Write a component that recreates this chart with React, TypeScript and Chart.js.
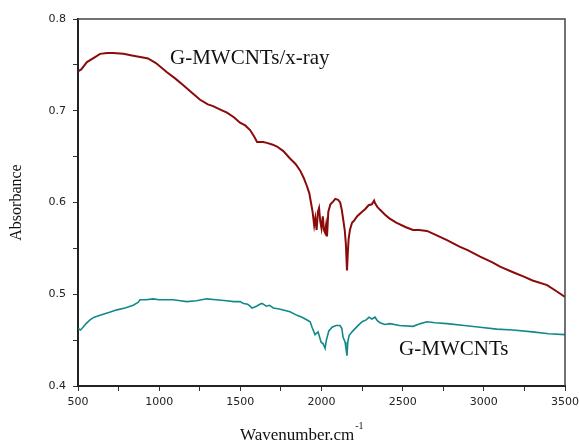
import React, { useEffect, useRef } from "react";
import { Chart, registerables } from "chart.js";

Chart.register(...registerables);

const xMin = 500;
const xMax = 3500;
const yMin = 0.4;
const yMax = 0.8;

const redX = [500, 520, 555, 600, 636, 680, 716, 780, 840, 900, 931, 980, 1048, 1100, 1147, 1200, 1252, 1300, 1332, 1380, 1418, 1460, 1498, 1530, 1560, 1585, 1603, 1640, 1664, 1700, 1726, 1765, 1806, 1840, 1868, 1890, 1910, 1925, 1935, 1945, 1955, 1962, 1970, 1978, 1985, 1992, 2000, 2008, 2015, 2022, 2028, 2034, 2042, 2055, 2071, 2085, 2102, 2115, 2125, 2135, 2143, 2150, 2157, 2162, 2167, 2175, 2188, 2200, 2220, 2250, 2270, 2290, 2310, 2324, 2330, 2345, 2361, 2390, 2416, 2460, 2520, 2564, 2600, 2650, 2700, 2773, 2850, 2900, 2977, 3050, 3100, 3180, 3250, 3300, 3390, 3450, 3500];
const redY = [0.743, 0.745, 0.753, 0.758, 0.762, 0.763, 0.763, 0.762, 0.760, 0.758, 0.757, 0.752, 0.742, 0.735, 0.728, 0.720, 0.712, 0.707, 0.705, 0.701, 0.698, 0.693, 0.687, 0.684, 0.679, 0.672, 0.666, 0.666, 0.665, 0.663, 0.661, 0.656, 0.648, 0.642, 0.635, 0.627, 0.618, 0.610, 0.600, 0.590, 0.575, 0.583, 0.570, 0.590, 0.594, 0.580, 0.572, 0.585, 0.570, 0.567, 0.575, 0.563, 0.590, 0.598, 0.601, 0.604, 0.603, 0.600, 0.592, 0.580, 0.570, 0.555, 0.526, 0.545, 0.560, 0.570, 0.578, 0.580, 0.585, 0.590, 0.593, 0.597, 0.598, 0.602, 0.599, 0.595, 0.592, 0.587, 0.583, 0.578, 0.573, 0.570, 0.570, 0.569, 0.565, 0.559, 0.552, 0.548, 0.541, 0.535, 0.530, 0.524, 0.519, 0.515, 0.510, 0.503, 0.497];

const tealX = [500, 515, 531, 550, 574, 600, 636, 690, 740, 790, 840, 870, 882, 920, 962, 1000, 1087, 1130, 1170, 1230, 1293, 1350, 1416, 1460, 1498, 1520, 1545, 1560, 1572, 1600, 1620, 1634, 1660, 1680, 1703, 1740, 1806, 1849, 1880, 1911, 1930, 1942, 1960, 1979, 1997, 2010, 2022, 2030, 2045, 2065, 2090, 2114, 2125, 2133, 2145, 2150, 2157, 2162, 2170, 2188, 2220, 2250, 2275, 2293, 2310, 2330, 2345, 2361, 2390, 2422, 2480, 2564, 2610, 2650, 2700, 2773, 2880, 2977, 3080, 3180, 3300, 3400, 3500];
const tealY = [0.463, 0.461, 0.464, 0.468, 0.472, 0.475, 0.477, 0.480, 0.483, 0.485, 0.488, 0.491, 0.494, 0.494, 0.495, 0.494, 0.494, 0.493, 0.492, 0.493, 0.495, 0.494, 0.493, 0.492, 0.492, 0.490, 0.489, 0.487, 0.485, 0.487, 0.489, 0.490, 0.487, 0.488, 0.485, 0.484, 0.481, 0.477, 0.475, 0.472, 0.470, 0.464, 0.456, 0.459, 0.448, 0.446, 0.441, 0.450, 0.460, 0.464, 0.466, 0.466, 0.463, 0.453, 0.448, 0.442, 0.433, 0.448, 0.455, 0.459, 0.465, 0.470, 0.472, 0.475, 0.473, 0.475, 0.471, 0.469, 0.467, 0.468, 0.466, 0.465, 0.468, 0.470, 0.469, 0.468, 0.466, 0.464, 0.462, 0.461, 0.459, 0.457, 0.456];

const labelTexts = ["G-MWCNTs/x-ray", "G-MWCNTs"];
const labelX = [1067, 2478];
const labelY = [0.757, 0.44];

const yTitle = "Absorbance";
const xTitle = "Wavenumber.cm";
const xTitleSup = "-1";

const decorPlugin = {
  id: "decor",
  afterDraw(chart: any) {
    const { ctx, chartArea: a, scales } = chart;
    ctx.save();
    // top and right frame
    ctx.strokeStyle = "#444";
    ctx.lineWidth = 1.5;
    ctx.beginPath();
    ctx.moveTo(a.left, a.top);
    ctx.lineTo(a.right, a.top);
    ctx.lineTo(a.right, a.bottom);
    ctx.stroke();

    // annotations
    ctx.fillStyle = "#111";
    ctx.font = '21px "Liberation Serif"';
    ctx.textAlign = "left";
    ctx.textBaseline = "middle";
    for (let i = 0; i < labelTexts.length; i++) {
      ctx.fillText(labelTexts[i], scales.x.getPixelForValue(labelX[i]), scales.y.getPixelForValue(labelY[i]));
    }

    // y title
    ctx.save();
    ctx.translate(17, (a.top + a.bottom) / 2);
    ctx.rotate(-Math.PI / 2);
    ctx.textAlign = "center";
    ctx.textBaseline = "middle";
    ctx.font = '16px "Liberation Serif"';
    ctx.fillText(yTitle, 0, 0);
    ctx.restore();

    // x title
    ctx.font = '17px "Liberation Serif"';
    ctx.textAlign = "left";
    ctx.textBaseline = "alphabetic";
    const tx = 240;
    const ty = 440;
    ctx.fillText(xTitle, tx, ty);
    const w = ctx.measureText(xTitle).width;
    ctx.font = '10px "Liberation Serif"';
    ctx.fillText(xTitleSup, tx + w + 1, ty - 11);
    ctx.restore();
  },
};

export default function App() {
  const ref = useRef<HTMLCanvasElement | null>(null);

  useEffect(() => {
    if (!ref.current) return;
    const chart = new Chart(ref.current, {
      type: "line",
      data: {
        datasets: [
          {
            label: "G-MWCNTs/x-ray",
            data: redX.map((x, i) => ({ x, y: redY[i] })),
            borderColor: "#8b0a0a",
            borderWidth: 2,
            pointRadius: 0,
            tension: 0,
          },
          {
            label: "G-MWCNTs",
            data: tealX.map((x, i) => ({ x, y: tealY[i] })),
            borderColor: "#11898a",
            borderWidth: 1.6,
            pointRadius: 0,
            tension: 0,
          },
        ],
      },
      options: {
        animation: false,
        responsive: false,
        maintainAspectRatio: false,
        layout: { padding: { top: 19, right: 0, left: 0, bottom: 0 } },
        plugins: {
          legend: { display: false },
          tooltip: { enabled: false },
        },
        scales: {
          x: {
            type: "linear",
            min: xMin,
            max: xMax,
            afterFit: (s: any) => {
              s.height = 55;
              s.paddingRight = 14;
            },
            ticks: {
              stepSize: 250,
              autoSkip: false,
              maxRotation: 0,
              padding: 5,
              color: "#222",
              font: { family: "DejaVu Sans", size: 11 },
              callback: (v: any, i: number) => (i % 2 === 0 ? String(Math.round(v)) : ""),
            },
            grid: { drawOnChartArea: false, drawTicks: true, tickLength: 5, color: "#333" },
            border: { display: true, color: "#222", width: 2 },
          },
          y: {
            type: "linear",
            min: yMin,
            max: yMax,
            afterFit: (s: any) => {
              s.width = 78;
            },
            ticks: {
              stepSize: 0.05,
              autoSkip: false,
              padding: 7,
              color: "#222",
              font: { family: "DejaVu Sans", size: 11 },
              callback: (v: any, i: number) => (i % 2 === 0 ? Number(v).toFixed(1) : ""),
            },
            grid: { drawOnChartArea: false, drawTicks: true, tickLength: 5, color: "#333" },
            border: { display: true, color: "#222", width: 2 },
          },
        },
      },
      plugins: [decorPlugin],
    });
    return () => chart.destroy();
  }, []);

  return (
    <div style={{ position: "fixed", left: 0, top: 0, width: 579, height: 441, background: "#fff" }}>
      <canvas ref={ref} width={579} height={441} style={{ width: 579, height: 441, display: "block" }} />
    </div>
  );
}
